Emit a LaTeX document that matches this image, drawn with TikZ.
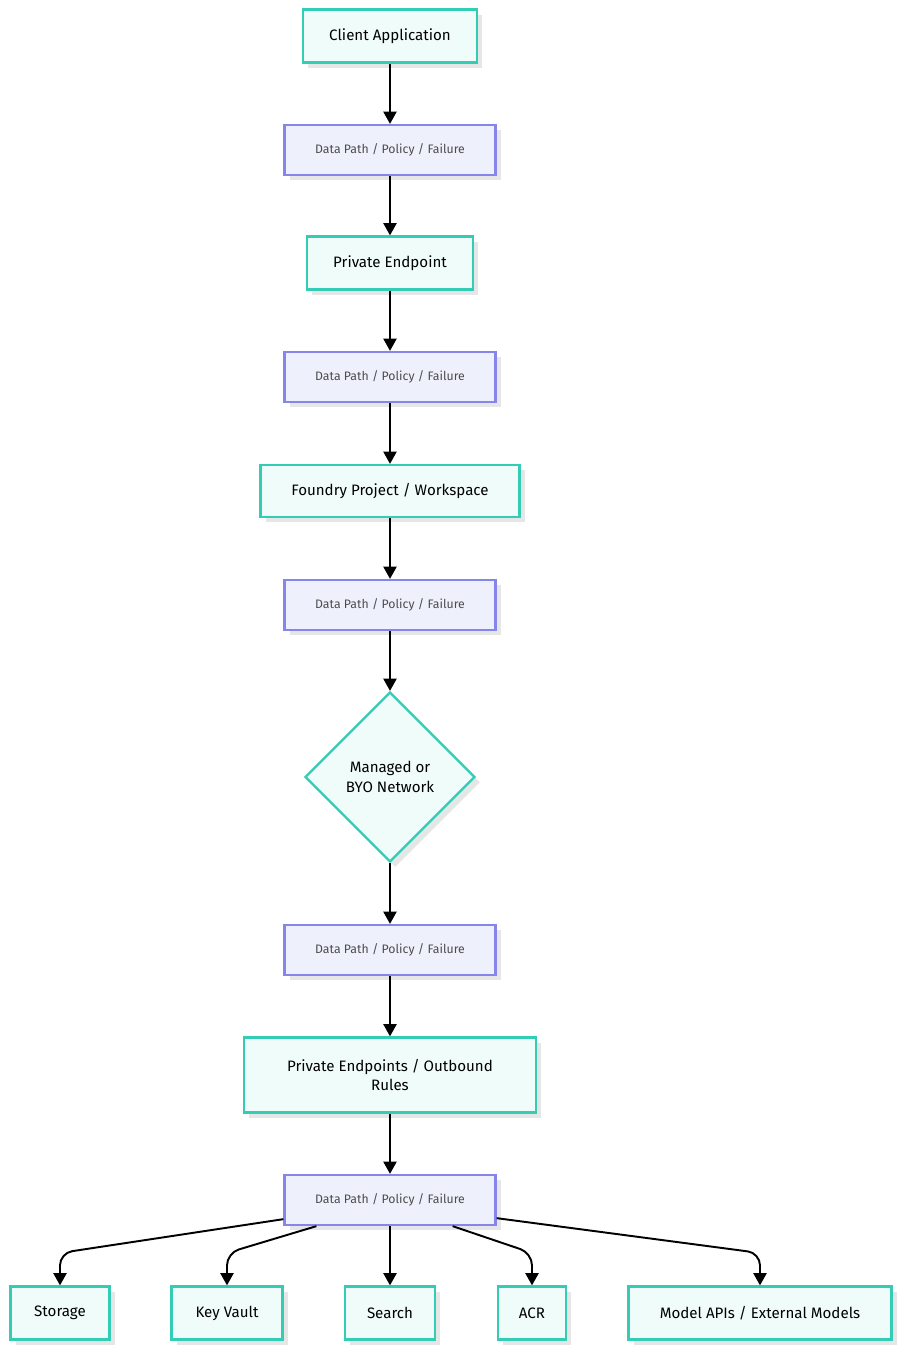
\documentclass[tikz,border=0pt]{standalone}
\usepackage{fontspec}
\setmainfont{Fira Sans}
\usetikzlibrary{positioning,shapes.geometric,arrows.meta,calc}
\definecolor{tealline}{HTML}{33CCB5}
\definecolor{tealfill}{HTML}{F0FCFA}
\definecolor{purpline}{HTML}{8585EC}
\definecolor{purpfill}{HTML}{EEF1FC}
\definecolor{shade}{HTML}{E6E6E6}

\begin{document}
\begin{tikzpicture}[
    x=0.02cm, y=-0.02cm,
    box/.style={draw=tealline, fill=tealfill, line width=1.3pt, font=\fontsize{8.6}{11}\selectfont,
        align=center, inner sep=0pt},
    dpath/.style={draw=purpline, fill=purpfill, line width=1.3pt, minimum width=4.22cm,
        minimum height=1cm, font=\fontsize{7}{9}\selectfont, text=black!70, inner sep=0pt},
    choice/.style={diamond, draw=tealline, fill=tealfill, line width=1.3pt, minimum width=3.4cm,
        minimum height=3.4cm, inner sep=0pt, align=center, font=\fontsize{8.6}{11}\selectfont},
    shadowed/.style={preaction={fill=shade, transform canvas={xshift=3pt, yshift=-3pt}}},
    arr/.style={-{Triangle[length=7pt,width=7.5pt]}, line width=1.1pt, rounded corners=7pt}
]
    \useasboundingbox (0,0) rectangle (902,1350);

    % main column
    \node[box, shadowed, minimum width=3.48cm, minimum height=1.06cm] (client) at (390,36) {Client Application};
    \node[dpath, shadowed] (dp1) at (390,150) {Data Path / Policy / Failure};
    \node[box, shadowed, minimum width=3.32cm, minimum height=1.06cm] (pe) at (390,263) {Private Endpoint};
    \node[dpath, shadowed] (dp2) at (390,377) {Data Path / Policy / Failure};
    \node[box, shadowed, minimum width=5.18cm, minimum height=1.04cm] (foundry) at (390,491) {Foundry Project / Workspace};
    \node[dpath, shadowed] (dp3) at (390,605) {Data Path / Policy / Failure};
    \node[choice, shadowed] (net) at (390,777) {Managed or\\BYO Network};
    \node[dpath, shadowed] (dp4) at (390,950) {Data Path / Policy / Failure};
    \node[box, shadowed, minimum width=5.84cm, minimum height=1.5cm] (rules) at (390,1075) {Private Endpoints / Outbound\\Rules};
    \node[dpath, shadowed] (dp5) at (390,1200) {Data Path / Policy / Failure};

    % targets
    \node[box, shadowed, minimum width=1.98cm, minimum height=1.06cm] (storage) at (60,1313) {Storage};
    \node[box, shadowed, minimum width=2.22cm, minimum height=1.06cm] (vault) at (227,1313) {Key Vault};
    \node[box, shadowed, minimum width=1.8cm, minimum height=1.06cm] (search) at (390,1313) {Search};
    \node[box, shadowed, minimum width=1.36cm, minimum height=1.06cm] (acr) at (532,1313) {ACR};
    \node[box, shadowed, minimum width=5.26cm, minimum height=1.06cm] (models) at (760,1313) {Model APIs / External Models};

    \coordinate (row) at (0,1253);

    \draw[arr] (client) -- (dp1);
    \draw[arr] (dp1) -- (pe);
    \draw[arr] (pe) -- (dp2);
    \draw[arr] (dp2) -- (foundry);
    \draw[arr] (foundry) -- (dp3);
    \draw[arr] (dp3) -- (net);
    \draw[arr] (net) -- (dp4);
    \draw[arr] (dp4) -- (rules);
    \draw[arr] (rules) -- (dp5);

    \draw[arr] ([yshift=0.14cm]dp5.south west) -- (storage.north |- row) -- (storage.north);
    \draw[arr] ([xshift=0.66cm]dp5.south west) -- (vault.north |- row) -- (vault.north);
    \draw[arr] (dp5) -- (search);
    \draw[arr] ([xshift=-0.88cm]dp5.south east) -- (acr.north |- row) -- (acr.north);
    \draw[arr] ([yshift=0.16cm]dp5.south east) -- (models.north |- row) -- (models.north);
\end{tikzpicture}
\end{document}
